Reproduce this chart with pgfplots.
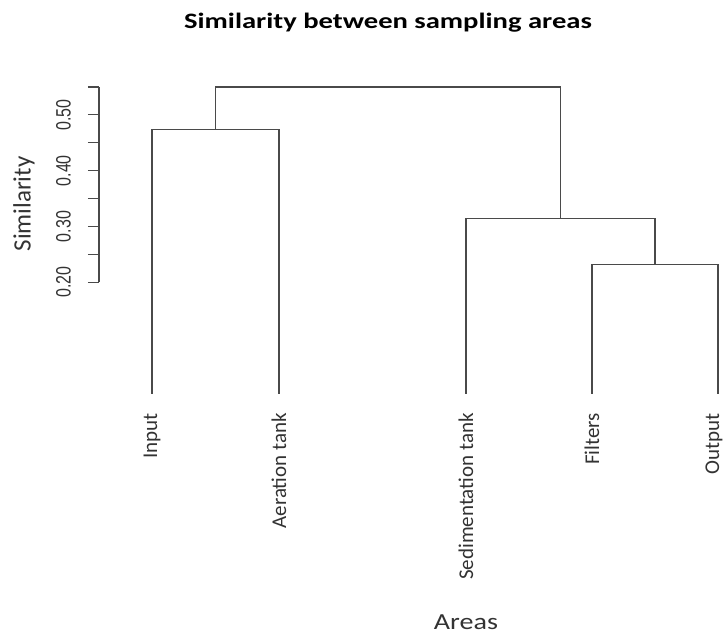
\documentclass[border=0pt]{standalone}
\usepackage{fontspec}
\setmainfont{Carlito}
\newfontfamily\arialf{Liberation Sans}
\usepackage{pgfplots}
\pgfplotsset{compat=1.18}

\definecolor{treegray}{HTML}{4A4A4A}
\definecolor{labgray}{HTML}{333333}

\begin{document}
\begin{tikzpicture}
\begin{axis}[
  scale only axis,
  width=625bp, height=635bp,
  xmin=99, xmax=724,
  ymin=-0.4321, ymax=0.7059,
  clip=false,
  axis x line=none,
  axis y line=left,
  y axis line style={draw=none},
  ytick={0.2,0.3,0.4,0.5},
  minor ytick={0.25,0.35,0.45,0.55},
  tick align=outside,
  ytick pos=left,
  major tick length=11bp,
  minor tick length=11bp,
  tick style={treegray, line width=1.1bp},
  yticklabel style={
    /pgf/number format/fixed,
    /pgf/number format/fixed zerofill,
    /pgf/number format/precision=2,
    /pgf/number format/assume math mode=true,
    font=\arialf\fontsize{16bp}{16bp}\selectfont,
    text=labgray, rotate=90, anchor=south, inner sep=0pt,
    yshift=17bp, yscale=1.3},
]
% axis line of the similarity scale
\draw[treegray, line width=1.1bp] (axis cs:99,0.2) -- (axis cs:99,0.55);

% dendrogram: leaves Input, Aeration tank, Sedimentation tank, Filters, Output
\addplot[treegray, line width=1.2bp] coordinates {(152,0) (152,0.474) (279,0.474) (279,0)};
\addplot[treegray, line width=1.2bp] coordinates {(592,0) (592,0.232) (718,0.232) (718,0)};
\addplot[treegray, line width=1.2bp] coordinates {(466,0) (466,0.315) (655,0.315) (655,0.232)};
\addplot[treegray, line width=1.2bp] coordinates {(215.5,0.474) (215.5,0.55) (560.5,0.55) (560.5,0.315)};

% leaf labels
\begin{scope}[every node/.style={rotate=90, anchor=east, inner sep=0pt,
    font=\fontsize{21bp}{21bp}\selectfont, text=labgray}]
  \node at (axis cs:152,-0.0342) {Input};
  \node at (axis cs:279,-0.0342) {Aeration tank};
  \node at (axis cs:466,-0.0342) {Sedimentation tank};
  \node at (axis cs:592,-0.0342) {Filters};
  \node at (axis cs:714,-0.0342) {Output};
\end{scope}

\node[anchor=base, inner sep=0pt, xscale=1.3, font=\bfseries\fontsize{22bp}{22bp}\selectfont]
  at (axis cs:388,0.654) {Similarity between sampling areas};
\node[anchor=base, inner sep=0pt, xscale=1.22, font=\fontsize{23bp}{23bp}\selectfont, text=labgray]
  at (axis cs:466,-0.4231) {Areas};
\node[rotate=90, inner sep=0pt, font=\fontsize{25bp}{25bp}\selectfont, text=labgray]
  at (axis cs:24,0.3403) {Similarity};

\coordinate (bl) at (axis cs:0,-0.4321);
\coordinate (tr) at (axis cs:724,0.7059);
\end{axis}
\pgfresetboundingbox
\path (bl) rectangle (tr);
\end{tikzpicture}
\end{document}
